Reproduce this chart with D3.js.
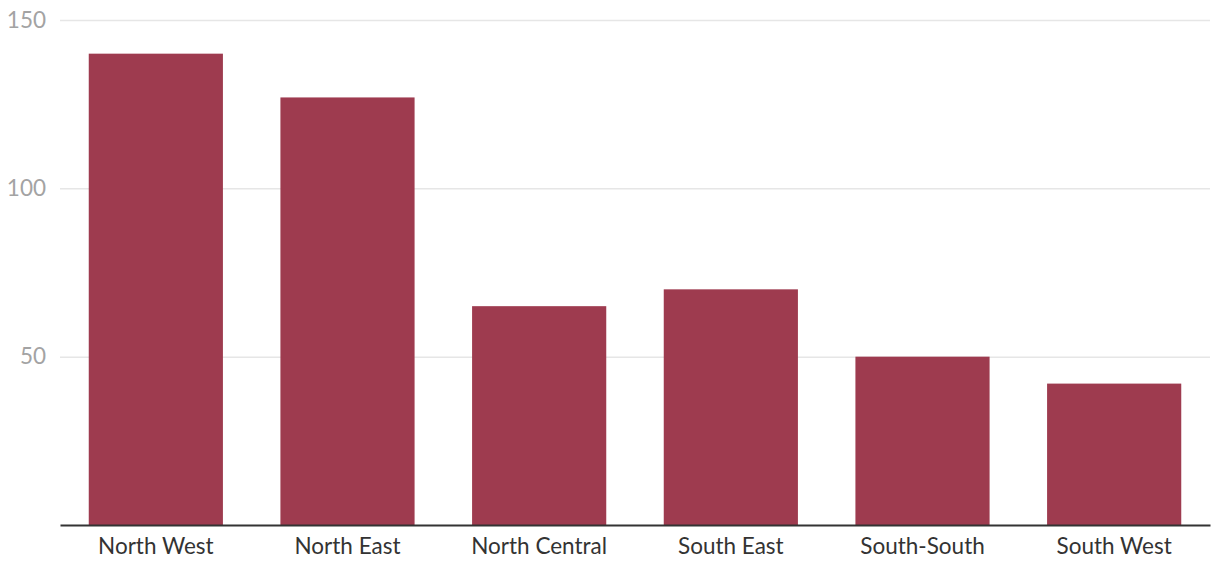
<!DOCTYPE html>
<html>
<head>
<meta charset="utf-8">
<script src="https://cdn.jsdelivr.net/npm/d3@7"></script>
<style>
  html, body { margin: 0; padding: 0; background: #fff; }
  svg { display: block; font-family: Lato, "Open Sans", sans-serif; }
</style>
</head>
<body>
<svg id="chart" width="1220" height="576"></svg>
<script>
const categories = ["North West", "North East", "North Central", "South East", "South-South", "South West"];
const values = [140, 127, 65, 70, 50, 42];
const yTicks = [50, 100, 150];

const svg = d3.select("#chart");
const margin = { left: 60, right: 10, top: 20, bottom: 51 };
const W = 1220, H = 576;

const x = d3.scaleBand()
  .domain(categories)
  .range([margin.left, W - margin.right])
  .paddingInner(0.3)
  .paddingOuter(0.15);

const y = d3.scaleLinear()
  .domain([0, 150])
  .range([H - margin.bottom, margin.top]);

// gridlines
const yAxis = d3.axisLeft(y).tickValues(yTicks).tickSize(-(W - margin.left - margin.right)).tickPadding(14);
const gy = svg.append("g").attr("transform", `translate(${margin.left},0)`).call(yAxis);
gy.select(".domain").remove();
gy.selectAll(".tick line").attr("stroke", "#e6e6e6").attr("stroke-width", 1.5);
gy.selectAll(".tick text").attr("fill", "#a3a3a3").attr("font-size", 22.5).attr("font-family", "Lato, sans-serif");

// bars
svg.append("g").selectAll("rect")
  .data(categories)
  .join("rect")
  .attr("x", d => x(d))
  .attr("width", x.bandwidth())
  .attr("y", (d, i) => y(values[i]))
  .attr("height", (d, i) => y(0) - y(values[i]))
  .attr("fill", "#9e3b4f");

// x axis
const xAxis = d3.axisBottom(x).tickSize(0).tickPadding(13);
const gx = svg.append("g").attr("transform", `translate(0,${y(0)})`).call(xAxis);
gx.select(".domain").attr("stroke", "#333").attr("stroke-width", 2);
gx.selectAll(".tick text").attr("fill", "#333").attr("font-size", 22.5).attr("font-family", "Lato, sans-serif");
</script>
</body>
</html>
